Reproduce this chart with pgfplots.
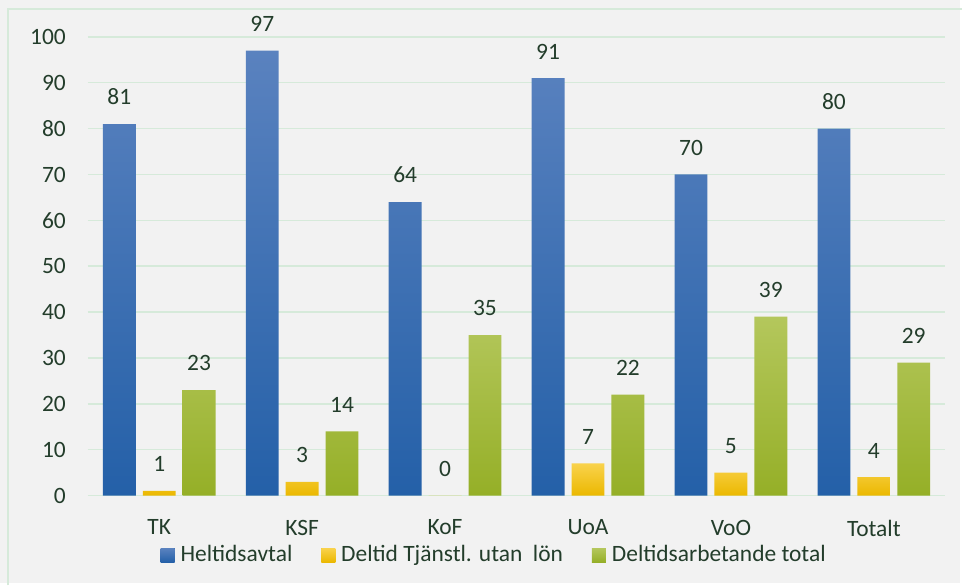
\documentclass[border=0pt]{standalone}
\usepackage{pgfplots}
\pgfplotsset{compat=1.18}
\usepackage{fontspec}
\setmainfont{Carlito}
\definecolor{txt}{HTML}{233D2B}
\definecolor{grd}{HTML}{D6EADA}
\definecolor{bg}{HTML}{F2F2F2}
\definecolor{blueT}{HTML}{5A82BF}
\definecolor{blueB}{HTML}{2460A8}
\definecolor{yelT}{HTML}{F9D24C}
\definecolor{yelB}{HTML}{EBB800}
\definecolor{grnT}{HTML}{B4C75C}
\definecolor{grnB}{HTML}{95AF27}
\definecolor{blueL}{HTML}{2E63AB}
\definecolor{yelL}{HTML}{F7C918}
\definecolor{grnL}{HTML}{A5BE3A}
\begin{document}
\fontsize{23.5bp}{28bp}\selectfont
\begin{tikzpicture}[x=1bp,y=1bp]
\fill[bg] (0,0) rectangle (963,585);
\draw[grd, line width=1.5bp] (8,-2) -- (8,576) -- (965,576);
\begin{axis}[
  at={(88bp,88bp)}, anchor=south west,
  width=860bp, height=460bp, scale only axis,
  xmin=-0.5, xmax=5.5, ymin=0, ymax=100,
  ytick={0,10,...,100},
  xtick={0,...,5},
  xticklabels={TK,KSF,KoF,UoA,VoO,Totalt},
  axis line style={draw=none},
  tick style={draw=none},
  ymajorgrids, grid style={grd, line width=1.5bp},
  ticklabel style={font=\fontsize{23.5bp}{28bp}\selectfont, text=txt},
  /pgf/number format/assume math mode=true,
  yticklabel style={xshift=-14bp},
  xticklabel style={yshift=-12bp},
  ybar, bar width=33bp,
  nodes near coords,
  every node near coord/.append style={font=\fontsize{23.5bp}{28bp}\selectfont, text=txt, inner sep=0pt, anchor=south, yshift=19bp},
  legend columns=3,
  legend style={at={(0.4727,-0.13)}, anchor=center, draw=none, fill=none,
    font=\fontsize{23.5bp}{28bp}\selectfont, text=txt,
    /tikz/every odd column/.append style={column sep=6bp},
    /tikz/every even column/.append style={column sep=29bp},
    nodes={inner sep=0bp}},
  legend image code/.code={\fill[#1] (0bp,-7bp) rectangle (14bp,7bp);},
  clip=false,
]
\addplot[draw=none, bar shift=-40bp, top color=blueT, bottom color=blueB, legend image post style={fill=blueL}]
  coordinates {(0,81) (1,97) (2,64) (3,91) (4,70) (5,80)};
\addplot[draw=none, bar shift=0bp, top color=yelT, bottom color=yelB, legend image post style={fill=yelL}]
  coordinates {(0,1) (1,3) (2,0) (3,7) (4,5) (5,4)};
\addplot[draw=none, bar shift=40bp, top color=grnT, bottom color=grnB, legend image post style={fill=grnL}]
  coordinates {(0,23) (1,14) (2,35) (3,22) (4,39) (5,29)};
\legend{Heltidsavtal, Deltid Tjänstl. utan\ \ lön, Deltidsarbetande total}
\end{axis}
\end{tikzpicture}
\end{document}
